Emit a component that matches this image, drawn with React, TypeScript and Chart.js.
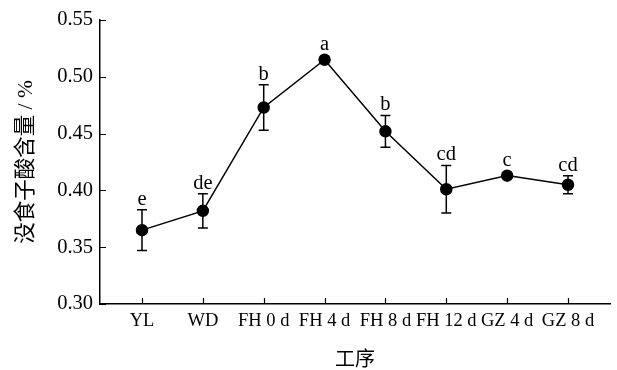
import React, { useEffect, useRef } from "react";
import { Chart, registerables } from "chart.js";

Chart.register(...registerables);

const categories = ["YL", "WD", "FH 0 d", "FH 4 d", "FH 8 d", "FH 12 d", "GZ 4 d", "GZ 8 d"];
const values = [0.365, 0.382, 0.473, 0.515, 0.452, 0.401, 0.413, 0.405];
const errors = [0.018, 0.015, 0.020, 0.002, 0.014, 0.021, 0.002, 0.008];
const letters = ["e", "de", "b", "a", "b", "cd", "c", "cd"];
const yTicks = [0.3, 0.35, 0.4, 0.45, 0.5, 0.55];

const SERIF = "'Liberation Serif', 'Times New Roman', serif";
const CJK = "'Liberation Serif', 'Noto Sans CJK SC', serif";

const errorBarPlugin = {
  id: "errorBars",
  beforeDatasetsDraw(chart: any) {
    const { ctx, scales } = chart;
    const x = scales.x;
    const y = scales.y;
    ctx.save();
    ctx.strokeStyle = "#000";
    ctx.lineWidth = 1.5;
    values.forEach((v, i) => {
      const px = x.getPixelForValue(i);
      const top = y.getPixelForValue(v + errors[i]);
      const bot = y.getPixelForValue(v - errors[i]);
      ctx.beginPath();
      ctx.moveTo(px, top);
      ctx.lineTo(px, bot);
      ctx.moveTo(px - 5, top);
      ctx.lineTo(px + 5, top);
      ctx.moveTo(px - 5, bot);
      ctx.lineTo(px + 5, bot);
      ctx.stroke();
    });
    ctx.restore();
  },
  afterDatasetsDraw(chart: any) {
    const { ctx, scales } = chart;
    const x = scales.x;
    const y = scales.y;
    ctx.save();
    ctx.fillStyle = "#000";
    ctx.font = `20.5px ${SERIF}`;
    ctx.textAlign = "center";
    ctx.textBaseline = "alphabetic";
    values.forEach((v, i) => {
      const px = x.getPixelForValue(i);
      const top = Math.min(y.getPixelForValue(v + errors[i]), y.getPixelForValue(v) - 5);
      ctx.fillText(letters[i], px, top - 5);
    });
    ctx.restore();
  },
  afterDraw(chart: any) {
    const { ctx, scales, chartArea } = chart;
    const x = scales.x;
    const y = scales.y;
    ctx.save();
    ctx.strokeStyle = "#000";
    ctx.lineWidth = 1.2;
    ctx.beginPath();
    yTicks.forEach((t) => {
      const py = Math.round(y.getPixelForValue(t)) + 0.5;
      ctx.moveTo(chartArea.left, py);
      ctx.lineTo(chartArea.left + 6, py);
    });
    categories.forEach((_, i) => {
      const px = Math.round(x.getPixelForValue(i)) + 0.5;
      ctx.moveTo(px, chartArea.bottom);
      ctx.lineTo(px, chartArea.bottom - 6);
    });
    ctx.stroke();
    ctx.restore();
  },
};

export default function App() {
  const ref = useRef<HTMLCanvasElement>(null);
  useEffect(() => {
    if (!ref.current) return;
    const chart = new Chart(ref.current, {
      type: "line",
      data: {
        datasets: [
          {
            data: values.map((v, i) => ({ x: i, y: v })),
            borderColor: "#000",
            backgroundColor: "#000",
            borderWidth: 1.5,
            pointRadius: 5.5,
            pointBackgroundColor: "#000",
            pointBorderColor: "#000",
            tension: 0,
          },
        ],
      },
      options: {
        responsive: false,
        animation: false,
        layout: { padding: { left: 0, right: 5, top: 20, bottom: 0 } },
        plugins: { legend: { display: false }, tooltip: { enabled: false } },
        scales: {
          x: {
            type: "linear",
            min: -0.69,
            max: 7.69,
            grid: { display: false, drawTicks: false },
            border: { display: true, color: "#000", width: 1.5 },
            afterBuildTicks: (scale: any) => {
              scale.ticks = categories.map((_, i) => ({ value: i }));
            },
            afterFit: (scale: any) => {
              scale.height = 66;
            },
            ticks: {
              color: "#000",
              padding: 6,
              maxRotation: 0,
              autoSkip: false,
              font: { family: SERIF, size: 18.5 },
              callback: (v: any) => categories[v] ?? "",
            },
            title: {
              display: true,
              text: "工序",
              color: "#000",
              font: { family: CJK, size: 20 },
              padding: { top: 0, bottom: -3 },
            },
          },
          y: {
            min: 0.3,
            max: 0.55,
            grid: { display: false, drawTicks: false },
            border: { display: true, color: "#000", width: 1.5 },
            afterBuildTicks: (scale: any) => {
              scale.ticks = yTicks.map((t) => ({ value: t }));
            },
            afterFit: (scale: any) => {
              scale.width = 100;
            },
            ticks: {
              color: "#000",
              padding: 7,
              font: { family: SERIF, size: 20.5 },
              callback: (v: any) => Number(v).toFixed(2),
            },
            title: {
              display: true,
              text: "没食子酸含量 / %",
              color: "#000",
              font: { family: CJK, size: 21.5 },
              padding: { top: 13, bottom: 0 },
            },
          },
        },
      },
      plugins: [errorBarPlugin],
    } as any);
    return () => chart.destroy();
  }, []);
  return (
    <div style={{ position: "fixed", left: 0, top: 0, width: 617, height: 370, background: "#fff" }}>
      <canvas ref={ref} width={617} height={370} />
    </div>
  );
}
